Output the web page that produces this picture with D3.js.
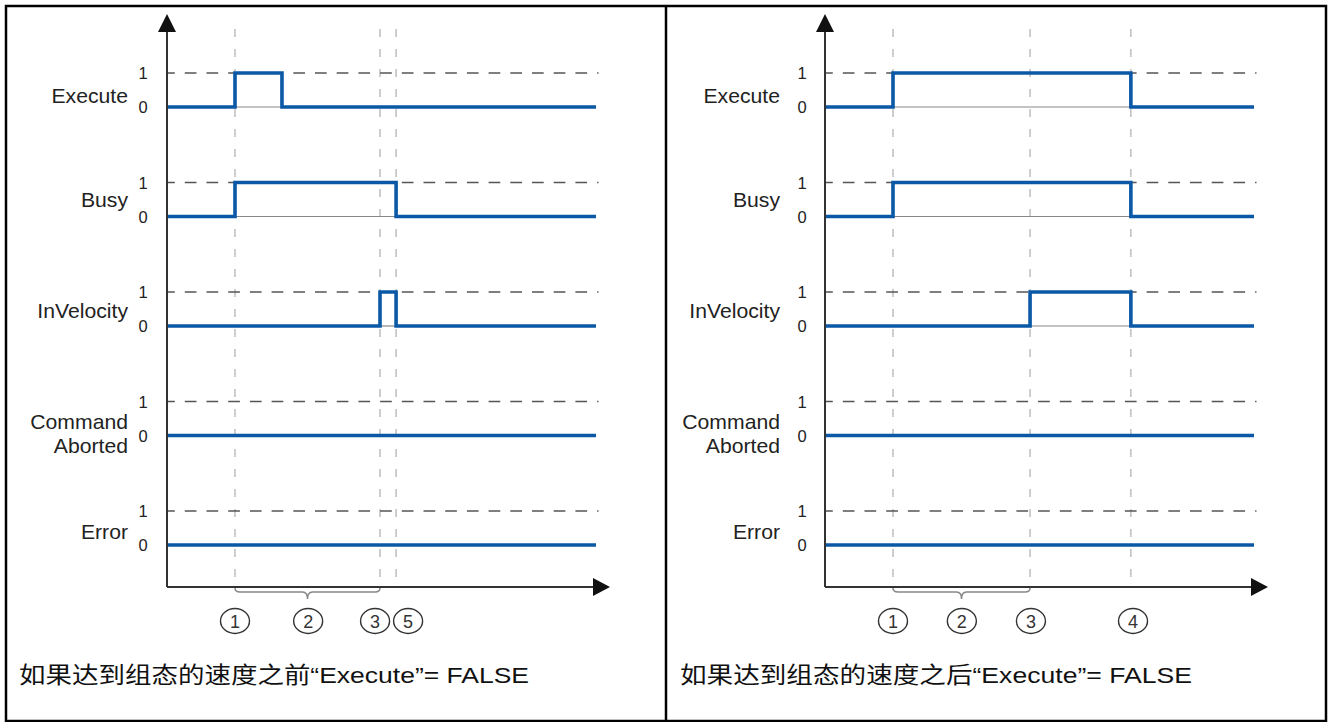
<!DOCTYPE html>
<html><head><meta charset="utf-8">
<script src="https://cdn.jsdelivr.net/npm/d3@7"></script>
<style>body{margin:0;background:#fff} svg{display:block}</style>
</head><body><svg id="c" width="1330" height="722"></svg>
<script>
// ---------- data ----------
const signalNames = [["Execute"], ["Busy"], ["InVelocity"], ["Command", "Aborted"], ["Error"]];
const levelLabels = ["0", "1"];
const timeDomain = [0, 10];

// left panel: step signals as [time, value]
const leftExecute    = [[0, 0], [1.585, 1], [2.68, 0], [10, 0]];
const leftBusy       = [[0, 0], [1.585, 1], [5.34, 0], [10, 0]];
const leftInVelocity = [[0, 0], [4.965, 1], [5.34, 0], [10, 0]];
const leftAborted    = [[0, 0], [10, 0]];
const leftError      = [[0, 0], [10, 0]];
const leftEvents  = [1.585, 4.965, 5.34];
const leftMarkers = [[1.585, "1"], [3.29, "2"], [4.85, "3"], [5.62, "5"]];
const leftBrace   = [1.585, 4.965];
const leftCaption = "如果达到组态的速度之前“Execute”= FALSE";

// right panel
const rightExecute    = [[0, 0], [1.585, 1], [7.13, 0], [10, 0]];
const rightBusy       = [[0, 0], [1.585, 1], [7.13, 0], [10, 0]];
const rightInVelocity = [[0, 0], [4.78, 1], [7.13, 0], [10, 0]];
const rightAborted    = [[0, 0], [10, 0]];
const rightError      = [[0, 0], [10, 0]];
const rightEvents  = [1.585, 4.78, 7.13];
const rightMarkers = [[1.585, "1"], [3.19, "2"], [4.8, "3"], [7.18, "4"]];
const rightBrace   = [1.585, 4.78];
const rightCaption = "如果达到组态的速度之后“Execute”= FALSE";

// ---------- layout ----------
const svg = d3.select("#c");
const BLUE = "#0a58a6";
const LATIN = "'Liberation Sans', Arial, 'Noto Sans CJK SC', sans-serif";

// frame
svg.append("rect").attr("x", 6).attr("y", 6).attr("width", 1320).attr("height", 715)
  .attr("fill", "none").attr("stroke", "#000").attr("stroke-width", 2.5);
svg.append("line").attr("x1", 666).attr("x2", 666).attr("y1", 6).attr("y2", 722)
  .attr("stroke", "#000").attr("stroke-width", 2.5);

const x = d3.scaleLinear().domain(timeDomain).range([0, 429]);
const row = d3.scaleLinear().domain([0, 4]).range([107, 545]); // zero level of each row
const lvl = d3.scaleLinear().domain([0, 1]).range([0, -34]);
const labelDy = [[-4], [-10], [-8], [-7, 17], [-6]];

function drawPanel(ox, labelGap, digitGap, signals, events, markers, brace, caption, capX, capW) {
  const g = svg.append("g").attr("transform", `translate(${ox},0)`);
  const axisY = 587, endX = 431.5;

  // vertical event lines
  g.selectAll("line.ev").data(events).join("line")
    .attr("x1", d => x(d)).attr("x2", d => x(d)).attr("y1", 29).attr("y2", 578)
    .attr("stroke", "#b4b4b4").attr("stroke-width", 1.3).attr("stroke-dasharray", "8,12");

  signals.forEach((sig, i) => {
    const y0 = row(i);
    // dashed level-1 line
    g.append("line").attr("x1", 0).attr("x2", endX).attr("y1", y0 + lvl(1)).attr("y2", y0 + lvl(1))
      .attr("stroke", "#555").attr("stroke-width", 1.5)
      .attr("stroke-dasharray", "11.7,10").attr("stroke-dashoffset", 3.9);
    // thin gray baseline under high intervals
    for (let k = 0; k < sig.length - 1; k++) {
      if (sig[k][1] === 1) {
        g.append("line").attr("x1", x(sig[k][0])).attr("x2", x(sig[k + 1][0]))
          .attr("y1", y0).attr("y2", y0).attr("stroke", "#888").attr("stroke-width", 1.2);
      }
    }
    // blue step signal
    const line = d3.line().x(d => x(d[0])).y(d => y0 + lvl(d[1])).curve(d3.curveStepAfter);
    g.append("path").attr("d", line(sig)).attr("fill", "none")
      .attr("stroke", BLUE).attr("stroke-width", 3.6).attr("stroke-linejoin", "miter");

    // level digits
    levelLabels.forEach((t, v) => {
      g.append("text").attr("x", -digitGap).attr("y", y0 + lvl(v) + 6)
        .attr("text-anchor", "middle").attr("font-family", LATIN).attr("font-size", 16.5)
        .attr("fill", "#222").text(t);
    });
    // signal name
    signalNames[i].forEach((nm, j) => {
      g.append("text").attr("transform", `translate(${-labelGap},${y0 + labelDy[i][j]}) scale(1.06,1)`)
        .attr("text-anchor", "end").attr("font-family", LATIN).attr("font-size", 20)
        .attr("fill", "#222").text(nm);
    });
  });

  // axes
  g.append("line").attr("x1", 0).attr("x2", 0).attr("y1", 30).attr("y2", axisY)
    .attr("stroke", "#333").attr("stroke-width", 2);
  g.append("line").attr("x1", 0).attr("x2", 428).attr("y1", axisY).attr("y2", axisY)
    .attr("stroke", "#333").attr("stroke-width", 2);
  g.append("path").attr("d", "M0,14 L9,32 L-9,32 Z").attr("fill", "#111");
  g.append("path").attr("d", `M443,${axisY} L426,${axisY - 9} L426,${axisY + 9} Z`).attr("fill", "#111");

  // brace
  const b1 = x(brace[0]), b2 = x(brace[1]), bm = (b1 + b2) / 2;
  g.append("path")
    .attr("d", `M${b1},${axisY + 1} Q${b1},592 ${b1 + 5},592 L${bm - 5},592 Q${bm},592 ${bm},599 Q${bm},592 ${bm + 5},592 L${b2 - 5},592 Q${b2},592 ${b2},${axisY + 1}`)
    .attr("fill", "none").attr("stroke", "#888").attr("stroke-width", 1.5);

  // circled markers
  const mk = g.selectAll("g.mk").data(markers).join("g")
    .attr("transform", d => `translate(${x(d[0])},621)`);
  mk.append("ellipse").attr("rx", 14.5).attr("ry", 12.5).attr("fill", "none")
    .attr("stroke", "#333").attr("stroke-width", 1.4);
  mk.append("text").attr("y", 6.5).attr("text-anchor", "middle").attr("font-family", LATIN)
    .attr("font-size", 18).attr("fill", "#333").text(d => d[1]);

  // caption
  svg.append("text").attr("x", capX).attr("y", 683).attr("font-family", LATIN)
    .attr("font-size", 22.5).attr("fill", "#111")
    .attr("textLength", capW).attr("lengthAdjust", "spacingAndGlyphs").text(caption);
}

drawPanel(167, 39, 24,
  [leftExecute, leftBusy, leftInVelocity, leftAborted, leftError],
  leftEvents, leftMarkers, leftBrace, leftCaption, 19, 510);
drawPanel(825, 45, 23,
  [rightExecute, rightBusy, rightInVelocity, rightAborted, rightError],
  rightEvents, rightMarkers, rightBrace, rightCaption, 680, 512);
</script></body></html>
